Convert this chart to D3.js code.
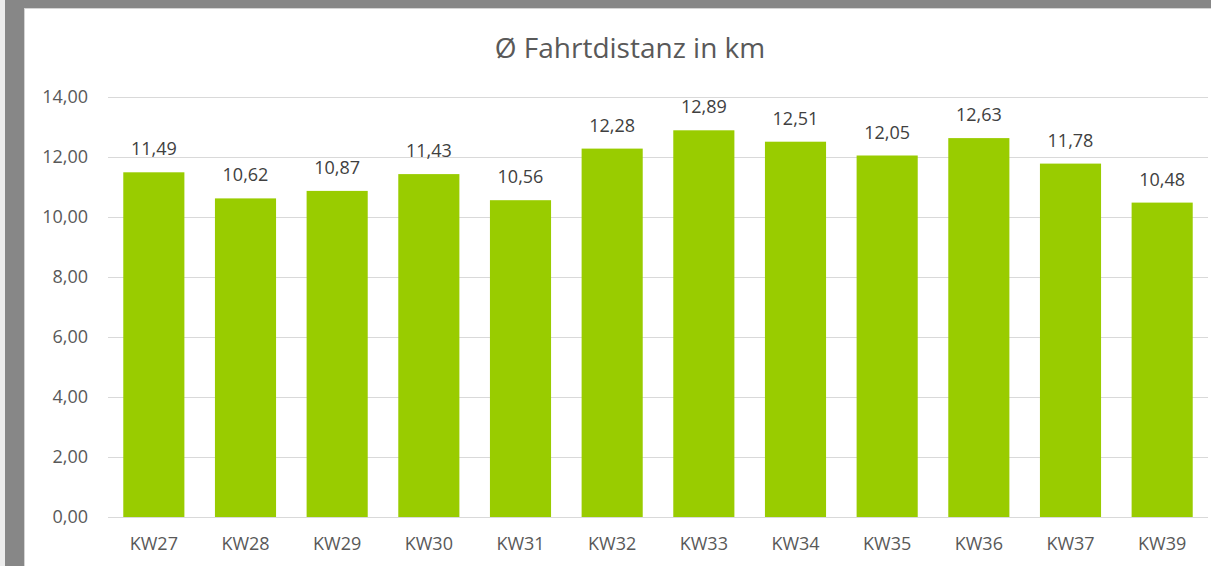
<!DOCTYPE html>
<html>
<head>
<meta charset="utf-8">
<script src="https://cdn.jsdelivr.net/npm/d3@7"></script>
<style>
  html, body { margin: 0; padding: 0; background: #ececec; }
  svg { display: block; font-family: "Open Sans", sans-serif; }
</style>
</head>
<body>
<svg id="chart" width="1211" height="566"></svg>
<script>
// chart data
var weeks = ["KW27", "KW28", "KW29", "KW30", "KW31", "KW32",
             "KW33", "KW34", "KW35", "KW36", "KW37", "KW39"];
var distances = [11.49, 10.62, 10.87, 11.43, 10.56, 12.28,
                 12.89, 12.51, 12.05, 12.63, 11.78, 10.48];
var yTicks = [0, 2, 4, 6, 8, 10, 12, 14];
var chartTitle = "Ø Fahrtdistanz in km";

var de = d3.formatLocale({ decimal: ",", thousands: ".", grouping: [3], currency: ["", " €"] });
var fmt = de.format(".2f");

var svg = d3.select("#chart");

// window frame (gray border left and top)
svg.append("rect").attr("x", 5).attr("y", 0).attr("width", 1206).attr("height", 566).attr("fill", "#878787");
svg.append("rect").attr("x", 24).attr("y", 8).attr("width", 1187).attr("height", 558).attr("fill", "#d4d4d4");
svg.append("rect").attr("x", 25).attr("y", 9).attr("width", 1186).attr("height", 557).attr("fill", "#ffffff");

var plot = { left: 108, right: 1208, top: 97, bottom: 517 };

var x = d3.scaleBand()
    .domain(weeks)
    .range([plot.left, plot.right])
    .paddingInner(1 / 3)
    .paddingOuter(1 / 6);

var y = d3.scaleLinear()
    .domain([0, 14])
    .range([plot.bottom, plot.top]);

// gridlines
svg.append("g")
    .attr("class", "grid")
  .selectAll("line")
    .data(yTicks)
  .enter().append("line")
    .attr("x1", plot.left)
    .attr("x2", plot.right)
    .attr("y1", function(d) { return Math.round(y(d)) + 0.5; })
    .attr("y2", function(d) { return Math.round(y(d)) + 0.5; })
    .attr("stroke", "#d9d9d9")
    .attr("stroke-width", 1);

// y axis labels
var yAxis = d3.axisLeft(y).tickValues(yTicks).tickFormat(fmt).tickSize(0).tickPadding(20);
var yg = svg.append("g")
    .attr("transform", "translate(" + plot.left + ",0)")
    .call(yAxis);
yg.select(".domain").remove();
yg.selectAll("text")
    .attr("fill", "#595959")
    .style("font-size", "18px")
    .style("font-family", "'Open Sans', sans-serif");

// bars
svg.append("g")
    .attr("class", "bars")
  .selectAll("rect")
    .data(distances)
  .enter().append("rect")
    .attr("x", function(d, i) { return x(weeks[i]); })
    .attr("y", function(d) { return y(d); })
    .attr("width", x.bandwidth())
    .attr("height", function(d) { return y(0) - y(d); })
    .attr("fill", "#99cc00");

// data labels
svg.append("g")
    .attr("class", "labels")
  .selectAll("text")
    .data(distances)
  .enter().append("text")
    .attr("x", function(d, i) { return x(weeks[i]) + x.bandwidth() / 2; })
    .attr("y", function(d) { return y(d) - 17; })
    .attr("text-anchor", "middle")
    .attr("fill", "#404040")
    .style("font-size", "18px")
    .text(function(d) { return fmt(d); });

// x axis
var xAxis = d3.axisBottom(x).tickSize(0).tickPadding(20);
var xg = svg.append("g")
    .attr("transform", "translate(0," + plot.bottom + ")")
    .call(xAxis);
xg.select(".domain").remove();
xg.selectAll("text")
    .attr("fill", "#595959")
    .style("font-size", "18px")
    .style("font-family", "'Open Sans', sans-serif");

// title
svg.append("text")
    .attr("x", 630)
    .attr("y", 58)
    .attr("text-anchor", "middle")
    .attr("fill", "#595959")
    .style("font-size", "28px")
    .text(chartTitle);
</script>
</body>
</html>
